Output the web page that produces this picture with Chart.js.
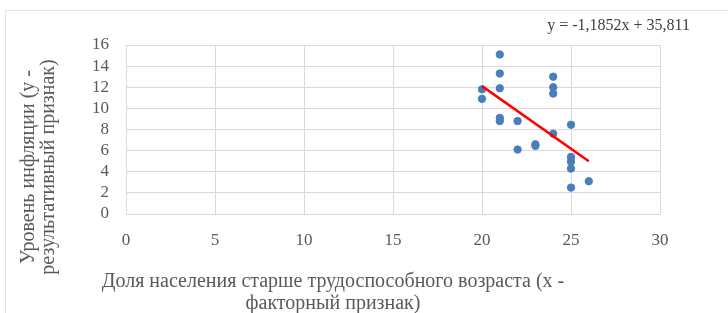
<!DOCTYPE html>
<html>
<head>
<meta charset="utf-8">
<script src="https://cdn.jsdelivr.net/npm/chart.js@4"></script>
<style>
  html, body { margin: 0; padding: 0; background: #fff; }
  #wrap { position: relative; width: 728px; height: 313px; }
</style>
</head>
<body>
<div id="wrap"><canvas id="scatter"></canvas></div>
<script>
// Share of population above working age (x) and inflation level (y)
const shareOld = [21, 21, 21, 20, 20, 21, 21, 22, 22, 23, 23, 24, 24, 24, 24, 25, 25, 25, 25, 25, 26];
const inflation = [15.1, 13.3, 11.9, 11.8, 10.9, 9.1, 8.8, 8.8, 6.1, 6.6, 6.45, 13.0, 12.0, 11.4, 7.6, 8.45, 5.4, 4.95, 4.3, 2.5, 3.1];

// Linear trend shown on the chart
const trendSlope = -1.1852;
const trendIntercept = 35.811;
const trendLabel = "y = -1,1852x + 35,811";

const xTicks = [0, 5, 10, 15, 20, 25, 30];
const yTicks = [0, 2, 4, 6, 8, 10, 12, 14, 16];

const xTitle = ["Доля населения старше трудоспособного возраста (х -", "факторный признак)"];
const yTitle = ["Уровень инфляции (у -", "результативный признак)"];

const points = shareOld.map((x, i) => ({ x: x, y: inflation[i] }));
const xFrom = Math.min(...shareOld);
const xTo = Math.max(...shareOld);
const trendPoints = [
  { x: xFrom, y: trendSlope * xFrom + trendIntercept },
  { x: xTo, y: trendSlope * xTo + trendIntercept },
];

const textColor = "#595959";
const gridColor = "#d9d9d9";
const serif = "'Liberation Serif', 'DejaVu Serif', serif";

// frame, axis titles and trend equation
const decorations = {
  id: "decorations",
  beforeDraw(chart) {
    const ctx = chart.ctx;
    ctx.save();
    ctx.strokeStyle = "#e3e3e3";
    ctx.lineWidth = 1;
    ctx.beginPath();
    ctx.moveTo(5.5, 313);
    ctx.lineTo(5.5, 10.5);
    ctx.lineTo(728, 10.5);
    ctx.stroke();
    ctx.restore();
  },
  afterDraw(chart) {
    const ctx = chart.ctx;
    ctx.save();
    ctx.fillStyle = textColor;
    ctx.font = "20px " + serif;
    ctx.textAlign = "center";
    ctx.textBaseline = "alphabetic";
    ctx.fillText(xTitle[0], 333, 287);
    ctx.fillText(xTitle[1], 333, 309);

    ctx.translate(0, 167);
    ctx.rotate(-Math.PI / 2);
    ctx.fillText(yTitle[0], 0, 34);
    ctx.fillText(yTitle[1], 0, 54);
    ctx.restore();

    ctx.save();
    ctx.fillStyle = "#404040";
    ctx.font = "16px " + serif;
    ctx.textAlign = "right";
    ctx.fillText(trendLabel, 690, 30);
    ctx.restore();
  },
};

new Chart(document.getElementById("scatter"), {
  type: "scatter",
  data: {
    datasets: [
      {
        label: "Уровень инфляции",
        data: points,
        backgroundColor: "#4a7ebb",
        borderColor: "#4a7ebb",
        pointRadius: 3.7,
        pointHoverRadius: 3.7,
        order: 2,
      },
      {
        label: "Линейная",
        type: "line",
        data: trendPoints,
        borderColor: "#ff0000",
        borderWidth: 2.5,
        pointRadius: 0,
        fill: false,
        order: 1,
      },
    ],
  },
  options: {
    responsive: true,
    maintainAspectRatio: false,
    animation: false,
    layout: { padding: { left: 0, right: 68, top: 45, bottom: 0 } },
    plugins: {
      legend: { display: false },
      tooltip: { enabled: false },
    },
    scales: {
      x: {
        type: "linear",
        min: xTicks[0],
        max: xTicks[xTicks.length - 1],
        afterBuildTicks: (scale) => { scale.ticks = xTicks.map((v) => ({ value: v })); },
        afterFit: (scale) => { scale.height = 99; },
        grid: { color: gridColor, drawTicks: false },
        border: { color: gridColor },
        ticks: { color: textColor, font: { family: serif, size: 17 }, padding: 16, maxRotation: 0, autoSkip: false },
      },
      y: {
        min: yTicks[0],
        max: yTicks[yTicks.length - 1],
        afterBuildTicks: (scale) => { scale.ticks = yTicks.map((v) => ({ value: v })); },
        afterFit: (scale) => { scale.width = 126; },
        grid: { color: gridColor, drawTicks: false },
        border: { color: gridColor },
        ticks: { color: textColor, font: { family: serif, size: 17 }, padding: 17, autoSkip: false },
      },
    },
  },
  plugins: [decorations],
});
</script>
</body>
</html>
